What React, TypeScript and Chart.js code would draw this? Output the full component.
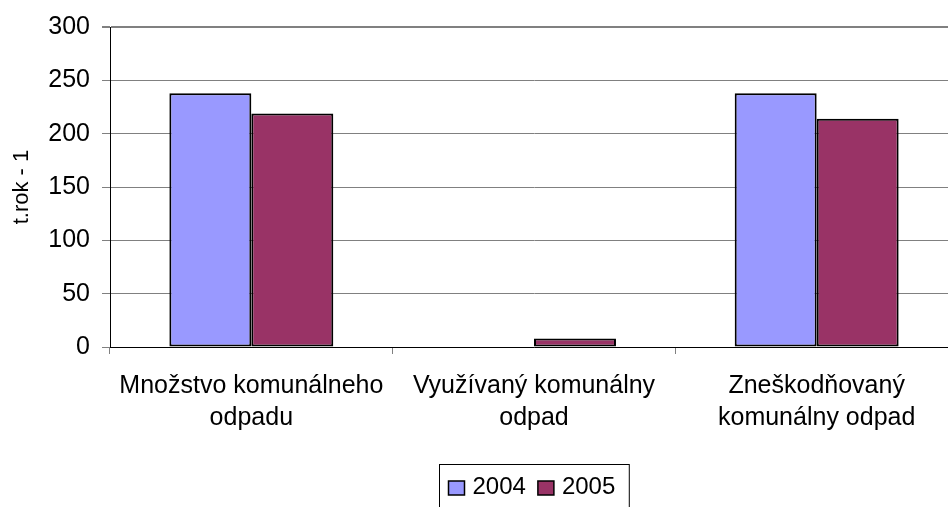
import React, { useEffect, useRef } from "react";
import { Chart, registerables } from "chart.js";

Chart.register(...registerables);

const categories: string[][] = [
  ["Množstvo komunálneho", "odpadu"],
  ["Využívaný komunálny", "odpad"],
  ["Zneškodňovaný", "komunálny odpad"],
];
const seriesLabels = ["2004", "2005"];
const values2004 = [238, 0, 238];
const values2005 = [219, 8, 214];
const seriesColors = ["#9999FF", "#993366"];
const yTicks = [0, 50, 100, 150, 200, 250, 300];
const yTitle = "t.rok - 1";

const FONT = "'Liberation Sans', Arial, sans-serif";

const legendBoxPlugin = {
  id: "legendBox",
  afterDraw(chart: any) {
    const ctx = chart.ctx as CanvasRenderingContext2D;
    const ca = chart.chartArea;
    ctx.save();
    ctx.font = `24px ${FONT}`;
    const sq = 16;
    const gapText = 8;
    const gapItem = 12;
    const items = chart.data.datasets.map((d: any) => ({
      label: d.label as string,
      color: d.backgroundColor as string,
      w: ctx.measureText(d.label).width,
    }));
    let contentW = 0;
    items.forEach((it: any, i: number) => {
      contentW += sq + gapText + it.w + (i < items.length - 1 ? gapItem : 0);
    });
    const padL = 9;
    const padR = 14;
    const boxW = padL + contentW + padR;
    const cx = (ca.left + ca.right) / 2;
    const boxL = Math.round(cx - boxW / 2) + 0.5;
    const boxT = 464.5;
    ctx.strokeStyle = "#000";
    ctx.lineWidth = 1;
    ctx.strokeRect(boxL, boxT, boxW, 60);
    let x = boxL + padL;
    const sqTop = 481;
    const baseline = 494;
    items.forEach((it: any) => {
      ctx.fillStyle = it.color;
      ctx.fillRect(x, sqTop, sq, 14);
      ctx.lineWidth = 1.5;
      ctx.strokeStyle = "#000";
      ctx.strokeRect(x, sqTop, sq, 14);
      ctx.fillStyle = "#000";
      ctx.textBaseline = "alphabetic";
      ctx.textAlign = "left";
      ctx.fillText(it.label, x + sq + gapText, baseline);
      x += sq + gapText + it.w + gapItem;
    });
    ctx.restore();
  },
};

export default function App() {
  const ref = useRef<HTMLCanvasElement>(null);
  useEffect(() => {
    if (!ref.current) return;
    const chart = new Chart(ref.current, {
      type: "bar",
      data: {
        labels: categories,
        datasets: [
          {
            label: seriesLabels[0],
            data: values2004,
            backgroundColor: seriesColors[0],
            borderColor: "#000",
            borderWidth: 2,
            borderSkipped: false,
          },
          {
            label: seriesLabels[1],
            data: values2005,
            backgroundColor: seriesColors[1],
            borderColor: "#000",
            borderWidth: 2,
            borderSkipped: false,
          },
        ],
      },
      options: {
        responsive: false,
        animation: false,
        layout: { padding: { top: 27, right: 17, bottom: 0, left: 0 } },
        datasets: {
          bar: { categoryPercentage: 0.58, barPercentage: 1 },
        },
        plugins: {
          legend: { display: false },
          tooltip: { enabled: false },
        },
        scales: {
          x: {
            offset: true,
            afterFit: (s: any) => {
              s.height = 160;
            },
            grid: {
              offset: true,
              drawOnChartArea: false,
              drawTicks: true,
              tickLength: 7,
              color: "#808080",
            },
            border: { color: "#000", width: 1 },
            ticks: {
              color: "#000",
              padding: 16,
              maxRotation: 0,
              autoSkip: false,
              font: { family: FONT, size: 25, lineHeight: 1.27 },
            },
          },
          y: {
            min: 0,
            max: 300,
            afterFit: (s: any) => {
              s.width = 110;
            },
            afterBuildTicks: (s: any) => {
              s.ticks = yTicks.map((v) => ({ value: v }));
            },
            grid: {
              color: "#808080",
              tickLength: 8,
              lineWidth: (c: any) => (c.tick && c.tick.value === 300 ? 2 : 1),
            },
            border: { color: "#000", width: 1 },
            ticks: {
              color: "#000",
              padding: 12,
              font: { family: FONT, size: 25 },
            },
            title: {
              display: true,
              text: yTitle,
              color: "#000",
              padding: { top: 9, bottom: 0 },
              font: { family: FONT, size: 22, lineHeight: 1.2 },
            },
          },
        },
      },
      plugins: [legendBoxPlugin],
    });
    return () => chart.destroy();
  }, []);
  return (
    <div
      style={{
        position: "fixed",
        left: 0,
        top: 0,
        width: 948,
        height: 507,
        overflow: "hidden",
        background: "#fff",
      }}
    >
      <canvas ref={ref} width={975} height={507} style={{ display: "block" }} />
    </div>
  );
}
